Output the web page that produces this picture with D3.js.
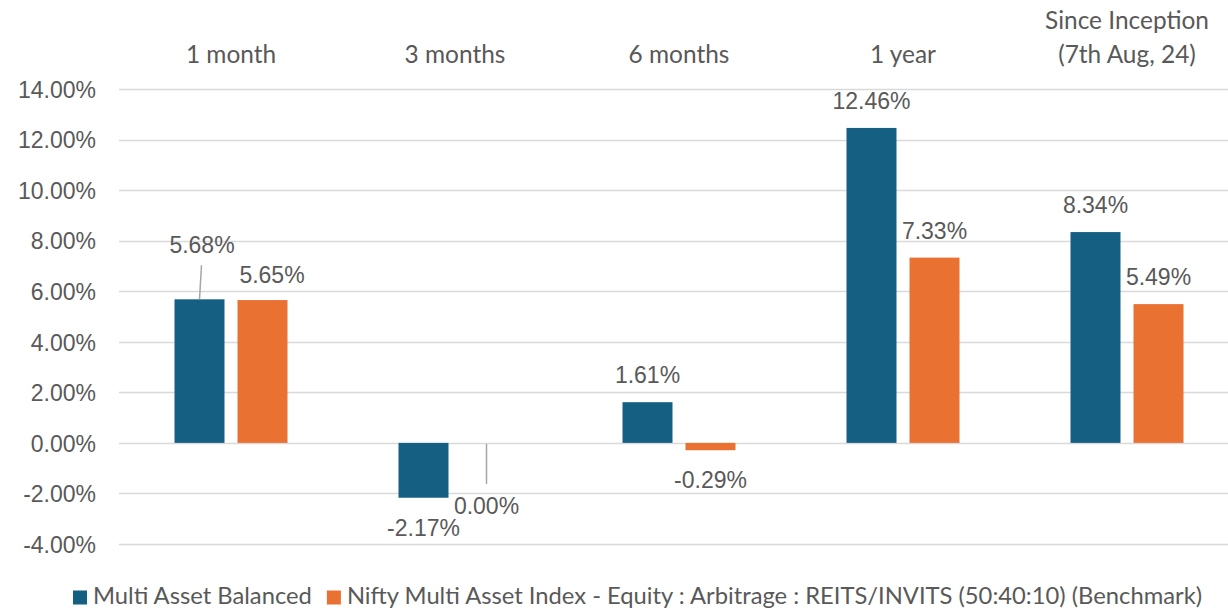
<!DOCTYPE html>
<html>
<head>
<meta charset="utf-8">
<script src="https://cdn.jsdelivr.net/npm/d3@7"></script>
<style>
  html, body { margin: 0; padding: 0; background: #fff; }
  svg { display: block; }
</style>
</head>
<body>
<div id="chart"></div>
<script>
// Trailing returns, grouped bar chart

let categories = ["1 month", "3 months", "6 months", "1 year", "Since Inception\n(7th Aug, 24)"];
let seriesNames = ["Multi Asset Balanced", "Nifty Multi Asset Index - Equity : Arbitrage : REITS/INVITS (50:40:10) (Benchmark)"];
let fundReturns = [5.68, -2.17, 1.61, 12.46, 8.34];
let benchmarkReturns = [5.65, 0.00, -0.29, 7.33, 5.49];
let yTicks = [-4, -2, 0, 2, 4, 6, 8, 10, 12, 14];

let pct = function(v){
    // plain hyphen for negatives, like the original
    return v.toFixed(2) + '%';
};

let drawChart = function(){
    /* Draws the bars, labels, axis and legend */

    let colors = ['#156082', '#E97132'];
    let textColor = '#595959';
    let gridColor = '#d9d9d9';
    let numFont = '"Liberation Sans", Arial, sans-serif';
    let catFont = 'Lato, "Open Sans", sans-serif';

    let width = 1228, height = 610;

    let svg = d3.select('#chart').append('svg')
        .attr('width', width)
        .attr('height', height)
        .attr('xmlns', 'http://www.w3.org/2000/svg');

    let series = [fundReturns, benchmarkReturns];

    let x0 = d3.scaleBand()
        .domain(categories)
        .range([119, 1239]);

    // two 50px bars with a 13px gap
    let x1 = d3.scaleBand()
        .domain(d3.range(series.length))
        .range([-56.5, 56.5])
        .paddingInner(13 / 63);

    let y = d3.scaleLinear()
        .domain([-4, 14])
        .range([544, 89]);

    // gridlines
    svg.append('g')
        .selectAll('line')
        .data(yTicks)
        .enter().append('line')
        .attr('x1', 119)
        .attr('x2', 1239)
        .attr('y1', d => Math.round(y(d)) + 0.5)
        .attr('y2', d => Math.round(y(d)) + 0.5)
        .attr('stroke', gridColor)
        .attr('stroke-width', 1.6);

    // y axis labels
    let yAxis = svg.append('g')
        .attr('transform', 'translate(96,0)')
        .call(d3.axisLeft(y).tickValues(yTicks).tickSize(0).tickPadding(0)
            .tickFormat(pct));
    yAxis.select('.domain').remove();
    yAxis.selectAll('text')
        .attr('fill', textColor)
        .attr('font-family', numFont)
        .attr('font-size', 23)
        .attr('dy', '0.36em');

    let groupCenter = c => x0(c) + x0.bandwidth() / 2;

    // bars
    let rows = [];
    series.forEach(function(vals, s){
        vals.forEach(function(v, i){
            rows.push({s: s, c: categories[i], v: v});
        });
    });

    svg.append('g')
        .selectAll('rect')
        .data(rows)
        .enter().append('rect')
        .attr('x', d => groupCenter(d.c) + x1(d.s))
        .attr('width', x1.bandwidth())
        .attr('y', d => y(Math.max(0, d.v)))
        .attr('height', d => Math.abs(y(d.v) - y(0)))
        .attr('fill', d => colors[d.s]);

    // data labels; a few were dragged by hand in the original
    let nudges = {'0-1 month': [2.5, -27, true], '1-1 month': [9.5, 1.5, false], '1-3 months': [0, 90, true]};

    let labels = svg.append('g');
    rows.forEach(function(d){
        let cx = groupCenter(d.c) + x1(d.s) + x1.bandwidth() / 2;
        let base = d.v > 0 ? y(d.v) - 19 : (d.v < 0 ? y(d.v) + 38 : y(0) - 19);
        let n = nudges[d.s + '-' + d.c] || [0, 0, false];
        let lx = cx + n[0], ly = base + n[1];

        if(n[2]){
            // leader line from label to the bar end
            let barEnd = y(d.v);
            let fromY = ly < barEnd ? ly + 12 : ly - 30;
            labels.append('line')
                .attr('x1', ly < barEnd ? lx - 0.5 : cx)
                .attr('y1', fromY)
                .attr('x2', cx)
                .attr('y2', ly < barEnd ? barEnd : barEnd + 1)
                .attr('stroke', '#a6a6a6')
                .attr('stroke-width', 1.5);
        }

        labels.append('text')
            .text(pct(d.v))
            .attr('x', lx)
            .attr('y', ly)
            .attr('text-anchor', 'middle')
            .attr('fill', textColor)
            .attr('font-family', numFont)
            .attr('font-size', 23);
    });

    // category labels along the top
    let catG = svg.append('g')
        .attr('font-family', catFont)
        .attr('fill', textColor);

    let probe = catG.append('text').attr('font-size', 20).text('Since Inception');
    let catSize = 20 * 164 / probe.node().getComputedTextLength();
    probe.remove();

    categories.forEach(function(c){
        let lines = c.split('\n');
        let t = catG.append('text')
            .attr('text-anchor', 'middle')
            .attr('font-size', catSize);
        lines.forEach(function(line, k){
            t.append('tspan')
                .attr('x', groupCenter(c))
                .attr('y', 63 - (lines.length - 1 - k) * 34)
                .text(line);
        });
    });

    // legend
    let legend = svg.append('g')
        .attr('font-family', catFont)
        .attr('fill', textColor);

    let probe2 = legend.append('text').attr('font-size', 20).text(seriesNames[0]);
    let legSize = 20 * 219 / probe2.node().getComputedTextLength();
    probe2.remove();

    let lx = 73;
    seriesNames.forEach(function(name, s){
        legend.append('rect')
            .attr('x', lx)
            .attr('y', 590.5)
            .attr('width', 14)
            .attr('height', 14)
            .attr('fill', colors[s]);
        let t = legend.append('text')
            .attr('x', lx + 20)
            .attr('y', 604)
            .attr('font-size', legSize)
            .text(name);
        lx += 20 + t.node().getComputedTextLength() + 15;
    });
};

drawChart();
</script>
</body>
</html>
